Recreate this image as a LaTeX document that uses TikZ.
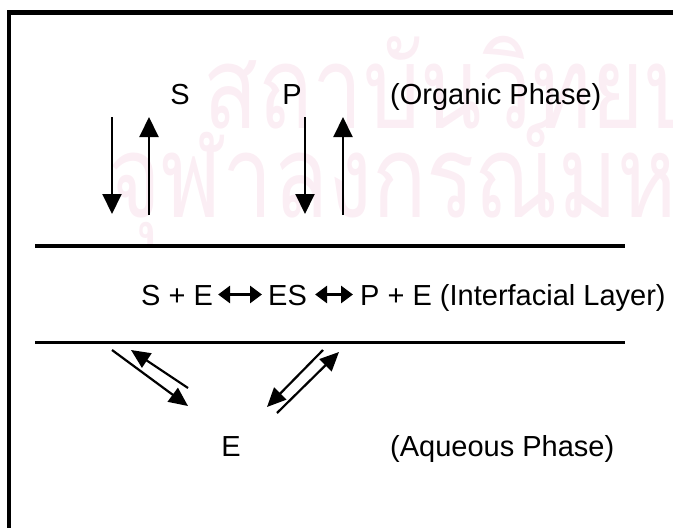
\documentclass[tikz,border=0pt]{standalone}
\usepackage{fontspec}
\setmainfont{Liberation Sans}
\newfontfamily\thaifont[Script=Thai]{Loma}
\usetikzlibrary{arrows.meta}
\definecolor{wm}{RGB}{251,238,244}
\begin{document}
\begin{tikzpicture}[x=1pt,y=-1pt,
  lbl/.style={font=\fontsize{29}{34}\selectfont, inner sep=0pt, anchor=base west, text height=21pt, text depth=0pt},
  vert/.style={line width=2pt, -{Triangle[length=20pt,width=19pt]}},
  diag/.style={line width=2.2pt, -{Triangle[length=19pt,width=17pt]}},
  eqarr/.style={line width=3pt, {Triangle[length=12pt,width=17pt]}-{Triangle[length=12pt,width=17pt]}},
  rulel/.style={line width=3.5pt},
  framel/.style={line width=4.5pt, line join=miter},
  wmark/.style={text=wm, font=\thaifont\fontsize{100}{100}\selectfont, inner sep=0pt, anchor=base west, xscale=0.9, yscale=1.15, transform shape}]
\useasboundingbox (0,0) rectangle (673,528);
\clip (0,0) rectangle (673,528);
% watermark
\node[wmark] (w1) at (203,128) {สถาบันวิทยบริการ};
\node[wmark] (w2) at (108,217) {จุฬาลงกรณ์มหาวิทยาลัย};
% frame
\coordinate (f1) at (9,528);
\coordinate (f2) at (9,12.5);
\coordinate (f3) at (673,12.5);
\draw[framel] (f1) -- (f2) -- (f3);
% organic phase
\node[lbl, anchor=base] (S) at (180,104) {S};
\node[lbl, anchor=base] (P) at (292,104) {P};
\node[lbl] (org) at (390,104) {(Organic Phase)};
\coordinate (a1s) at (112,117); \coordinate (a1e) at (112,214);
\coordinate (a2s) at (149,215); \coordinate (a2e) at (149,117);
\coordinate (a3s) at (305,117); \coordinate (a3e) at (305,214);
\coordinate (a4s) at (343,215); \coordinate (a4e) at (343,117);
\draw[vert] (a1s) -- (a1e);
\draw[vert] (a2s) -- (a2e);
\draw[vert] (a3s) -- (a3e);
\draw[vert] (a4s) -- (a4e);
% interfacial layer
\coordinate (l1a) at (35,246); \coordinate (l1b) at (625,246);
\coordinate (l2a) at (35,342.5); \coordinate (l2b) at (625,342.5);
\draw[rulel] (l1a) -- (l1b);
\draw[rulel] (l2a) -- (l2b);
\node[lbl] (e1) at (141,305) {S + E};
\node[lbl] (e2) at (268,305) {ES};
\node[lbl] (e3) at (360,305) {P + E (Interfacial Layer)};
\draw[eqarr] ([xshift=5pt]e1.east) -- ([xshift=-6pt]e2.west);
\draw[eqarr] ([xshift=8pt]e2.east) -- ([xshift=-7pt]e3.west);
% aqueous phase
\coordinate (d1s) at (112,350); \coordinate (d1e) at (188,406);
\coordinate (d2s) at (188,388); \coordinate (d2e) at (131,350);
\coordinate (d3s) at (277,413); \coordinate (d3e) at (339,352);
\coordinate (d4s) at (323,350); \coordinate (d4e) at (267,407);
\draw[diag] (d1s) -- (d1e);
\draw[diag] (d2s) -- (d2e);
\draw[diag] (d3s) -- (d3e);
\draw[diag] (d4s) -- (d4e);
\node[lbl, anchor=base] (E) at (231,456) {E};
\node[lbl] (aq) at (390,456) {(Aqueous Phase)};
\end{tikzpicture}
\end{document}
